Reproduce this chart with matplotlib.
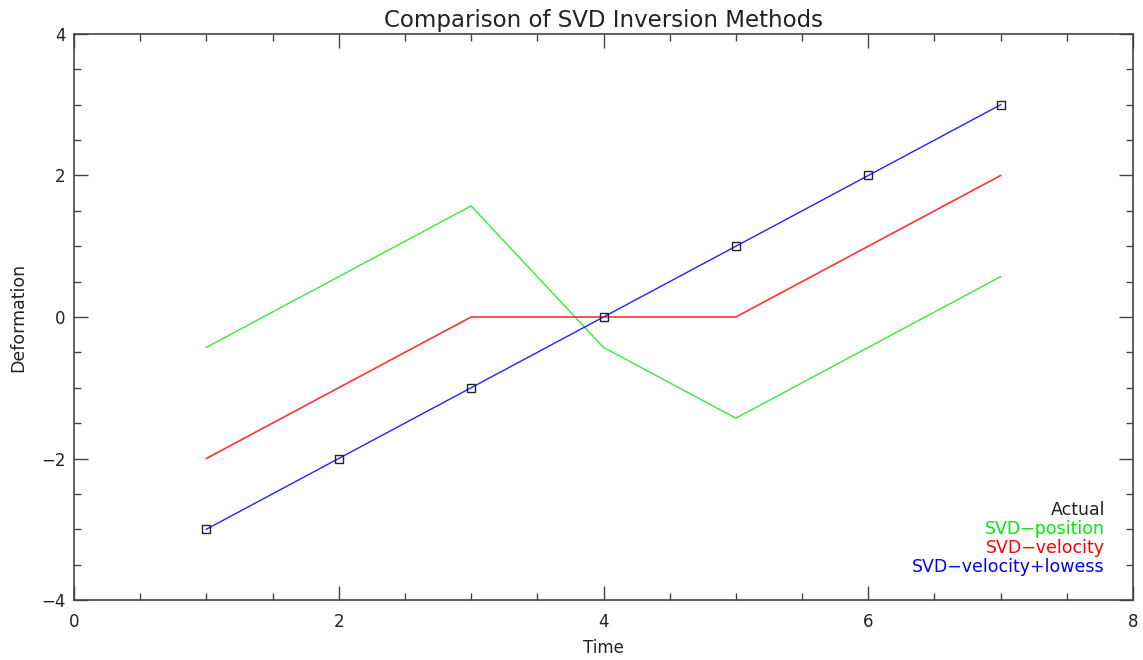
import numpy as np
import matplotlib.pyplot as plt
from matplotlib.ticker import MultipleLocator

time = np.array([1, 2, 3, 4, 5, 6, 7])
actual = np.array([-3, -2, -1, 0, 1, 2, 3])
svd_position = np.array([-0.43, 0.57, 1.57, -0.43, -1.43, -0.43, 0.57])
svd_velocity = np.array([-2, -1, 0, 0, 0, 1, 2])
svd_vel_lowess = np.array([-3, -2, -1, 0, 1, 2, 3])

legend_labels = ["Actual", "SVD\u2212position", "SVD\u2212velocity", "SVD\u2212velocity+lowess"]
legend_colors = ["#222222", "#00ee00", "#ff0000", "#0000ff"]

fig = plt.figure(figsize=(11.43, 6.6), dpi=100)
ax = fig.add_axes([0.0647, 0.0909, 0.9266, 0.8576])

ax.plot(time, svd_position, color="#33ee33", lw=1)
ax.plot(time, svd_velocity, color="#ff3333", lw=1.2)
ax.plot(time, svd_vel_lowess, color="#2222ff", lw=1)
ax.plot(time, actual, ls="none", marker="s", ms=6, mfc="none", mec="#222222", mew=1)

ax.set_xlim(0, 8)
ax.set_ylim(-4, 4)
ax.xaxis.set_major_locator(MultipleLocator(2))
ax.xaxis.set_minor_locator(MultipleLocator(0.5))
ax.yaxis.set_major_locator(MultipleLocator(2))
ax.yaxis.set_minor_locator(MultipleLocator(0.5))
ax.tick_params(which="both", direction="in", top=True, right=True, colors="#444444",
               labelcolor="#222222", labelsize=12)
ax.tick_params(which="major", length=10, width=1)
ax.tick_params(axis="x", which="major", pad=9)
ax.tick_params(axis="y", which="major", pad=6)
ax.tick_params(which="minor", length=5, width=1)
for s in ax.spines.values():
    s.set_color("#444444")
    s.set_linewidth(1.2)

ax.set_title("Comparison of SVD Inversion Methods", fontsize=16.5, color="#222222", pad=5)
ax.set_xlabel("Time", fontsize=12, color="#222222", labelpad=6)
ax.set_ylabel("Deformation", fontsize=12.5, color="#222222", labelpad=10)

for i, (lab, col) in enumerate(zip(legend_labels, legend_colors)):
    ax.text(0.9735, 0.1585 - i * 0.0335, lab, color=col, fontsize=12.5, ha="right", va="center",
            transform=ax.transAxes)

fig.savefig("out.png", dpi=100)
